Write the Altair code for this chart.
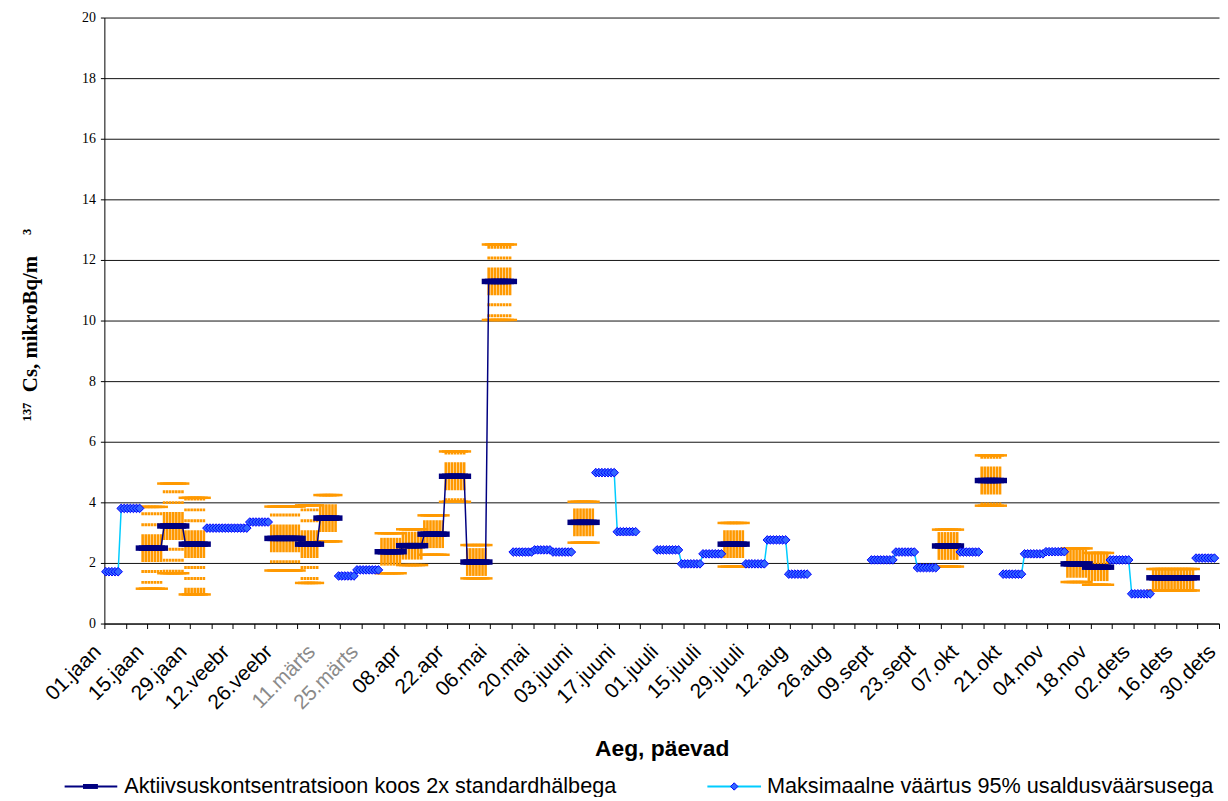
import altair as alt
import pandas as pd

# ---- data (day index 0 = 01.jaan, leap year) ----
x_labels = ["01.jaan", "15.jaan", "29.jaan", "12.veebr", "26.veebr", "11.märts", "25.märts",
            "08.apr", "22.apr", "06.mai", "20.mai", "03.juuni", "17.juuni", "01.juuli",
            "15.juuli", "29.juuli", "12.aug", "26.aug", "09.sept", "23.sept", "07.okt",
            "21.okt", "04.nov", "18.nov", "02.dets", "16.dets", "30.dets"]

# measured activity concentration (with 2x standard deviation)
navy_start = [12, 19, 26, 54, 64, 70, 90, 97, 104, 111, 118, 125, 153, 202, 272, 286, 314, 321, 342]
navy_end   = [18, 25, 32, 63, 69, 75, 96, 103, 110, 117, 124, 132, 159, 208, 278, 292, 320, 327, 355]
navy_val   = [2.49, 3.22, 2.62, 2.81, 2.62, 3.48, 2.37, 2.57, 2.95, 4.86, 2.03, 11.29, 3.34, 2.62, 2.56, 4.72, 1.97, 1.86, 1.51]
navy_low   = [1.15, 1.66, 0.96, 1.75, 1.34, 2.71, 1.66, 1.93, 2.27, 4.02, 1.49, 10.02, 2.67, 1.88, 1.88, 3.89, 1.37, 1.28, 1.09]
navy_high  = [3.85, 4.62, 4.15, 3.86, 3.90, 4.24, 2.98, 3.11, 3.57, 5.68, 2.59, 12.51, 4.02, 3.32, 3.10, 5.55, 2.48, 2.33, 1.80]

# maximum value with 95% confidence (below detection limit)
blue_start = [0, 5, 33, 47, 76, 82, 133, 140, 146, 160, 167, 180, 188, 195, 209, 216, 223, 250, 258, 265, 279, 293, 300, 307, 328, 335, 356]
blue_end   = [4, 11, 46, 53, 81, 89, 139, 145, 152, 166, 173, 187, 194, 201, 215, 222, 229, 257, 264, 271, 285, 299, 306, 313, 334, 341, 362]
blue_val   = [1.71, 3.80, 3.15, 3.35, 1.57, 1.77, 2.36, 2.43, 2.36, 4.98, 3.03, 2.43, 1.97, 2.30, 1.97, 2.76, 1.63, 2.10, 2.36, 1.84, 2.36, 1.63, 2.30, 2.37, 2.10, 0.98, 2.16]

legend_labels = ["Aktiivsuskontsentratsioon koos 2x standardhälbega",
                 "Maksimaalne väärtus 95% usaldusväärsusega"]

# ---- expand each sampling period into daily rows ----
def expand(starts, ends, vals, lows=None, highs=None):
    rows, run, prev = [], 0, None
    for i, (s, e, v) in enumerate(zip(starts, ends, vals)):
        if prev is None or s != prev + 1:
            run += 1
        for d in range(s, e + 1):
            r = {"day": d + 0.5, "v": v, "run": run}
            if lows is not None:
                r["lo"] = lows[i]
                r["hi"] = highs[i]
            rows.append(r)
        prev = e
    return pd.DataFrame(rows)

navy_df = expand(navy_start, navy_end, navy_val, navy_low, navy_high)
blue_df = expand(blue_start, blue_end, blue_val)

NAVY = "#000080"
ORANGE = "#FF9900"
CYAN = "#00CCFF"
DASH = [14, 8, 3, 8, 3, 8]

tick_vals = list(range(0, 365, 7))
lab_arr = "[" + ",".join("'" + s + "'" for s in x_labels) + "]"
label_expr = f"datum.value % 14 == 0 ? {lab_arr}[datum.value / 14] : ''"

xscale = alt.Scale(domain=[0, 364], nice=False, zero=False)
yscale = alt.Scale(domain=[0, 20], nice=False)

x_axis = alt.Axis(
    values=tick_vals, labelExpr=label_expr, labelAngle=315, labelAlign="right",
    labelBaseline="middle", labelPadding=20, labelOffset=-7, labelFont="Liberation Sans",
    labelFontSize=21,
    labelColor={"condition": {"test": "datum.value == 70 || datum.value == 84", "value": "#8a8a8a"},
                "value": "black"},
    labelOverlap=False, labelFlush=False, labelBound=False,
    tickSize=5, tickColor="black", domainColor="black", grid=False,
    title="Aeg, päevad", titleFont="Liberation Sans", titleFontSize=23, titleFontWeight="bold",
    titleBaseline="alphabetic", titleY=133, titleColor="black",
)
y_axis = alt.Axis(
    values=list(range(0, 21, 2)), labelFont="Liberation Serif", labelFontSize=14, labelColor="black",
    labelPadding=5, tickSize=4, tickColor="black", domainColor="black",
    grid=True, gridColor="#111111", gridWidth=1,
    title="¹³⁷\u2002Cs, mikroBq/m\u2003³", titleFont="Liberation Serif", titleFontSize=21,
    titleFontWeight="bold", titleAngle=270, titleX=-68, titleY=309, titleAlign="center",
    titleBaseline="alphabetic", titleColor="black",
)

X = alt.X("day:Q", scale=xscale, axis=x_axis)
def Y(field):
    return alt.Y(field, scale=yscale, axis=y_axis)

base_n = alt.Chart(navy_df)
base_b = alt.Chart(blue_df)

err_up = base_n.mark_rule(color=ORANGE, strokeWidth=2.6, strokeDash=DASH).encode(
    x=X, y=Y("v:Q"), y2="hi:Q")
err_dn = base_n.mark_rule(color=ORANGE, strokeWidth=2.6, strokeDash=DASH).encode(
    x=X, y=Y("v:Q"), y2="lo:Q")
cap_hi = base_n.mark_tick(color=ORANGE, orient="horizontal", size=14, thickness=2.5, opacity=1).encode(
    x=X, y=Y("hi:Q"))
cap_lo = base_n.mark_tick(color=ORANGE, orient="horizontal", size=14, thickness=2.5, opacity=1).encode(
    x=X, y=Y("lo:Q"))

navy_line = base_n.mark_line(color=NAVY, strokeWidth=1.5).encode(
    x=X, y=Y("v:Q"), detail="run:N")
navy_mark = base_n.mark_tick(color=NAVY, orient="horizontal", size=14, thickness=5.5, opacity=1).encode(
    x=X, y=Y("v:Q"))

blue_line = base_b.mark_line(color=CYAN, strokeWidth=1.5).encode(
    x=X, y=Y("v:Q"), detail="run:N")
blue_mark = base_b.mark_point(shape="diamond", filled=True, size=75, fill="#3366FF",
                              stroke="#0000FF", strokeWidth=1, opacity=1).encode(
    x=X, y=Y("v:Q"))

# ---- legend (drawn below the plot) ----
leg = alt.Chart(pd.DataFrame({"label": legend_labels, "i": [0, 1]}))
leg1 = leg.transform_filter("datum.i == 0")
leg2 = leg.transform_filter("datum.i == 1")
LY = 774
l1_line = leg1.mark_rule(color=NAVY, strokeWidth=2).encode(x=alt.value(-40), x2=alt.value(13), y=alt.value(LY))
l1_mark = leg1.mark_tick(color=NAVY, orient="horizontal", size=15, thickness=5, opacity=1).encode(
    x=alt.value(-14), y=alt.value(LY))
l1_text = leg1.mark_text(align="left", baseline="alphabetic", font="Liberation Sans", fontSize=21.8,
                         color="black").encode(x=alt.value(20), y=alt.value(LY + 7), text="label:N")
l2_line = leg2.mark_rule(color=CYAN, strokeWidth=2).encode(x=alt.value(607), x2=alt.value(661), y=alt.value(LY))
l2_mark = leg2.mark_point(shape="diamond", filled=True, size=55, fill="#3366FF", stroke="#0000FF",
                          strokeWidth=1, opacity=1).encode(x=alt.value(634), y=alt.value(LY))
l2_text = leg2.mark_text(align="left", baseline="alphabetic", font="Liberation Sans", fontSize=21.8,
                         color="black").encode(x=alt.value(667), y=alt.value(LY + 7), text="label:N")

chart = alt.layer(
    err_up, err_dn, cap_hi, cap_lo, navy_line, navy_mark, blue_line, blue_mark,
    l1_line, l1_mark, l1_text, l2_line, l2_mark, l2_text,
).properties(
    width=1122, height=610,
    autosize=alt.AutoSizeParams(type="none"),
    padding={"left": 97, "top": 7, "right": 1, "bottom": 172},
    background="white",
).configure_view(stroke=None)

chart.save("out.html", embed_options={"renderer": "svg", "actions": False})
